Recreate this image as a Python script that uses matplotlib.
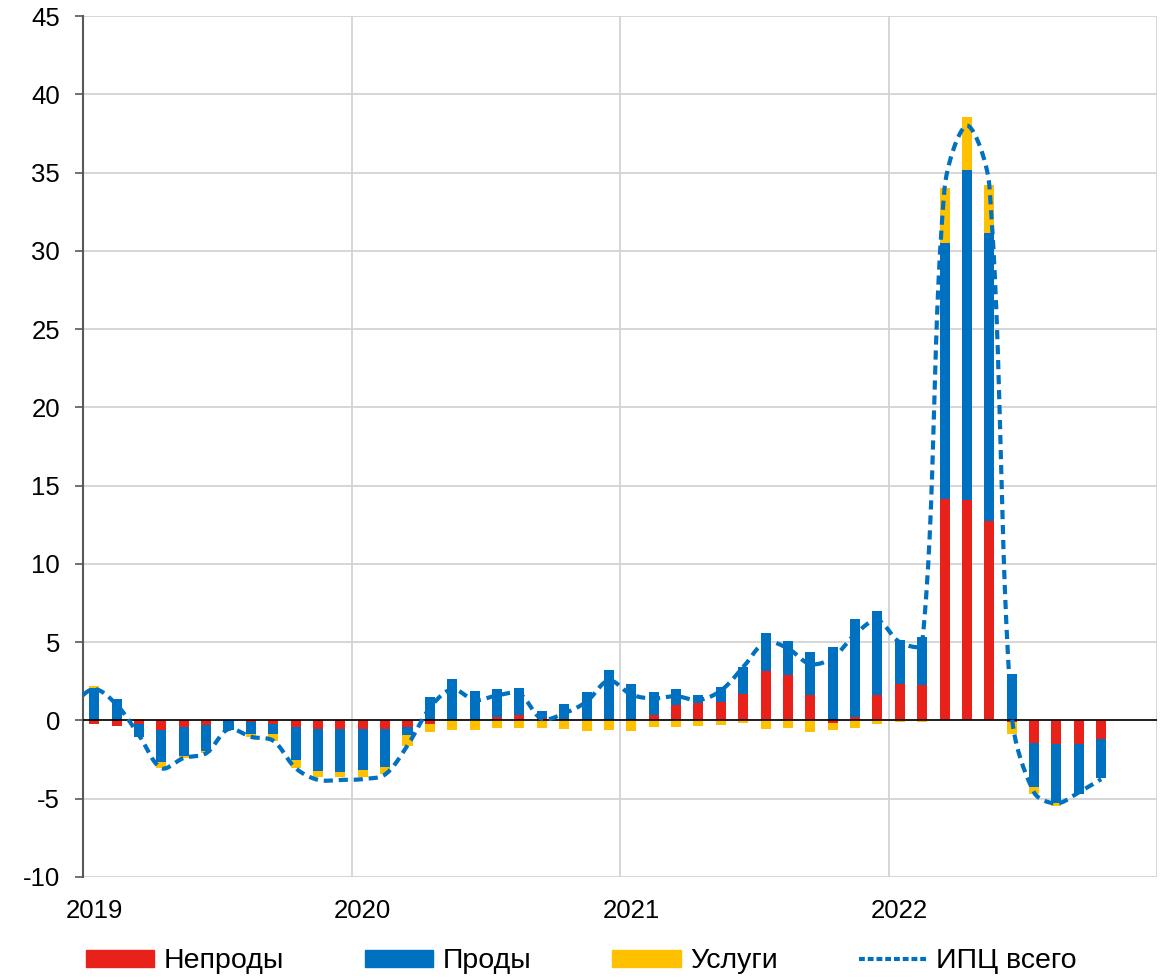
import matplotlib
matplotlib.use("Agg")
import matplotlib.pyplot as plt
import numpy as np
from matplotlib.lines import Line2D
from matplotlib.patches import Patch

plt.rcParams['font.family'] = ['Liberation Sans', 'DejaVu Sans']
plt.rcParams['axes.unicode_minus'] = False

# monthly contributions, Jan 2019 .. Oct 2022
neprody = [-0.2, -0.35, -0.2, -0.6, -0.45, -0.3, 0.0, -0.12, -0.25, -0.45, -0.57, -0.57,
           -0.57, -0.57, -0.45, -0.2, 0.0, 0.0, 0.2, 0.35, 0.17, 0.06, 0.0, 0.0,
           0.0, 0.36, 0.96, 1.09, 1.15, 1.66, 3.15, 2.92, 1.62, -0.15, 0.23, 1.62,
           2.35, 2.27, 14.15, 14.07, 12.75, -0.13, -1.47, -1.49, -1.53, -1.21]
prody = [2.1, 1.35, -0.85, -2.05, -1.83, -1.65, -0.62, -0.77, -0.64, -2.09, -2.64, -2.75,
         -2.6, -2.43, -0.49, 1.5, 2.62, 1.9, 1.81, 1.75, 0.43, 0.96, 1.83, 3.2,
         2.35, 1.43, 1.04, 0.53, 0.96, 1.77, 2.45, 2.15, 2.72, 4.7, 6.22, 5.39,
         2.78, 3.07, 16.33, 21.09, 18.39, 2.94, -2.77, -3.81, -3.17, -2.49]
uslugi = [0.07, 0.05, 0.1, -0.4, -0.15, -0.15, 0.05, -0.15, -0.43, -0.53, -0.43, -0.32,
          -0.47, -0.45, -0.7, -0.53, -0.62, -0.62, -0.51, -0.51, -0.51, -0.57, -0.66, -0.62,
          -0.66, -0.45, -0.4, -0.34, -0.28, -0.15, -0.57, -0.51, -0.77, -0.47, -0.47, -0.23,
          -0.08, -0.13, 3.52, 3.39, 3.04, -0.74, -0.43, -0.15, 0.0, 0.0]
# total CPI, Dec 2018 .. Oct 2022
cpi = [1.0, 2.0, 1.0, -0.95, -3.05, -2.4, -2.1, -0.55, -1.05, -1.3, -3.05, -3.8, -3.8,
       -3.75, -3.45, -1.6, 0.8, 2.0, 1.3, 1.6, 1.7, 0.1, 0.45, 1.2, 2.55,
       1.65, 1.4, 1.55, 1.3, 1.9, 3.4, 5.0, 4.6, 3.6, 4.0, 5.5, 6.4,
       5.0, 4.9, 34.0, 38.0, 34.2, 0.4, -4.6, -5.3, -4.6, -3.75]
years = ['2019', '2020', '2021', '2022']

series = [("Непроды", neprody, '#E8211A'),
          ("Проды", prody, '#0070C0'),
          ("Услуги", uslugi, '#FFC000')]


def smooth_line(xd, yd, sx, sy, n=30):
    """Excel-like smoothing: cubic Bezier segments built in screen space."""
    p = np.column_stack([np.asarray(xd, float) * sx, np.asarray(yd, float) * sy])
    t = np.linspace(0, 1, n)[1:, None]
    pts = [p[0]]
    for i in range(len(p) - 1):
        p0 = p[i - 1] if i > 0 else p[i]
        p1, p2 = p[i], p[i + 1]
        p3 = p[i + 2] if i + 2 < len(p) else p[i + 1]
        d01 = np.linalg.norm(p1 - p0)
        d12 = np.linalg.norm(p2 - p1)
        d23 = np.linalg.norm(p3 - p2)
        c1 = p1 + (p2 - p0) * d12 / (3 * (d01 + d12))
        c2 = p2 - (p3 - p1) * d12 / (3 * (d12 + d23))
        seg = ((1 - t) ** 3 * p1 + 3 * (1 - t) ** 2 * t * c1
               + 3 * (1 - t) * t ** 2 * c2 + t ** 3 * p2)
        pts.extend(seg)
    pts = np.array(pts)
    return pts[:, 0] / sx, pts[:, 1] / sy


fig_w, fig_h = 11.7, 9.77
ax_rect = [0.071, 0.1024, 0.918, 0.8812]
fig = plt.figure(figsize=(fig_w, fig_h), dpi=100)
ax = fig.add_axes(ax_rect)
xmin, xmax, ymin, ymax = 0, 48, -10, 45

x = np.arange(len(neprody)) + 0.5
pos_base = np.zeros(len(x))
neg_base = np.zeros(len(x))
for name, vals, color in series:
    v = np.asarray(vals)
    bottom = np.where(v >= 0, pos_base, neg_base)
    ax.bar(x, v, width=0.45, bottom=bottom, color=color, zorder=3)
    pos_base += np.where(v >= 0, v, 0)
    neg_base += np.where(v < 0, v, 0)

sx = fig_w * 100 * ax_rect[2] / (xmax - xmin)
sy = fig_h * 100 * ax_rect[3] / (ymax - ymin)
lx, ly = smooth_line(np.arange(len(cpi)) - 0.5, cpi, sx, sy)
ax.plot(lx, ly, color='#0070C0', lw=3, ls=(0, (2.2, 1.4)), zorder=4)

ax.axhline(0, color='black', lw=1.2, zorder=3.5)

ax.set_xlim(xmin, xmax)
ax.set_ylim(ymin, ymax)
ax.set_yticks(np.arange(-10, 46, 5))
ax.set_xticks([0.5, 12.5, 24.5, 36.5])
ax.set_xticklabels(years)
ax.set_xticks([0, 12, 24, 36, 48], minor=True)
ax.grid(axis='y', color='#D0D0D0', lw=1.2, zorder=0)
ax.grid(axis='x', which='minor', color='#D0D0D0', lw=1.2, zorder=0)
ax.tick_params(axis='x', which='both', length=0, labelsize=18.5, pad=16)
ax.tick_params(axis='y', length=5.5, width=1.2, color='#595959', labelsize=18.5, pad=11)
for s in ['top', 'right', 'bottom']:
    ax.spines[s].set_visible(False)
ax.spines['left'].set_color('#595959')
ax.spines['left'].set_linewidth(1.5)

handles = [Patch(color=c) for _, _, c in series]
handles.append(Line2D([0], [0], color='#0070C0', lw=3, ls=(0, (1.4, 0.7))))
labels = [n for n, _, _ in series] + ["ИПЦ всего"]
fig.legend(handles, labels, loc='center', bbox_to_anchor=(0.497, 0.016), ncol=4,
           frameon=False, fontsize=20.5, handlelength=2.4, handleheight=0.52,
           handletextpad=0.32, columnspacing=2.85)

fig.savefig('out.png', dpi=100)
